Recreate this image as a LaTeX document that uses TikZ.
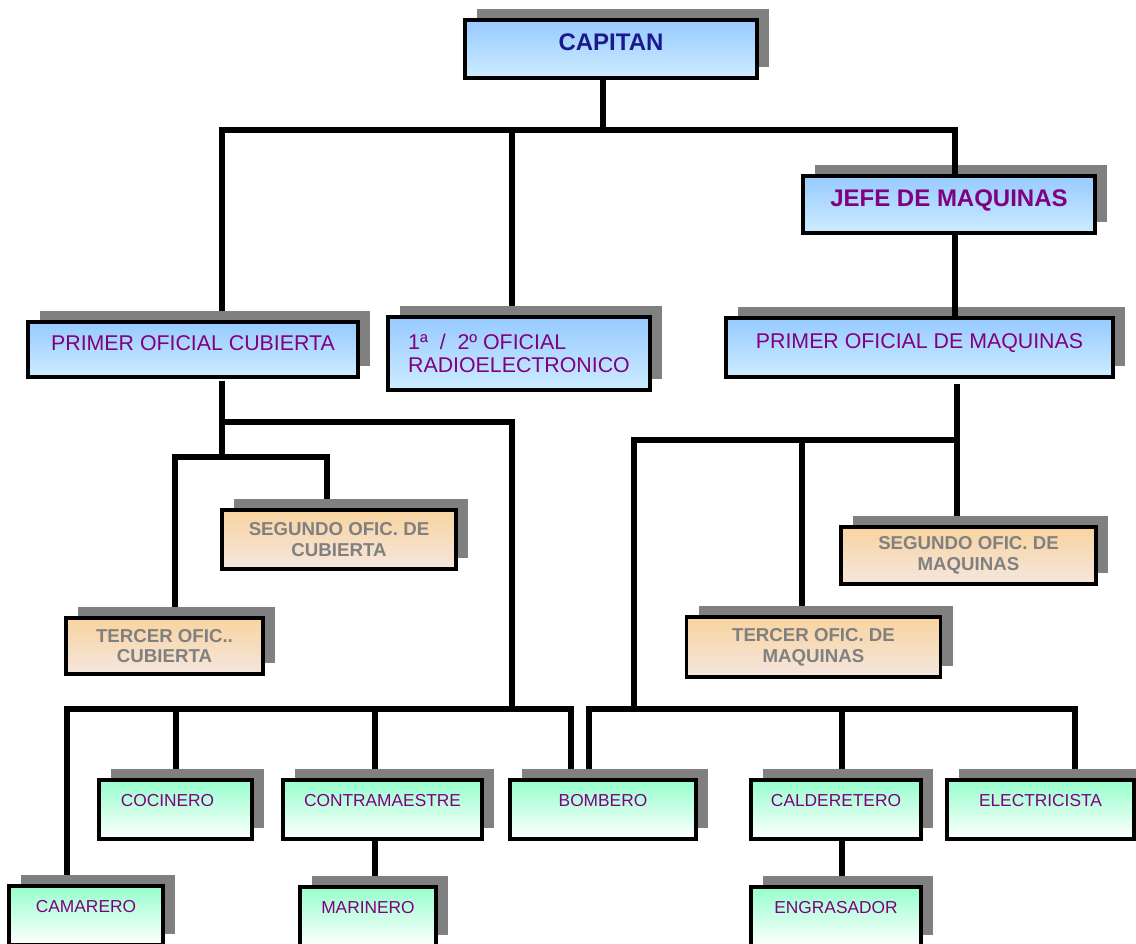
\documentclass[tikz,border=0pt]{standalone}
\usepackage{fontspec}
\setmainfont{Liberation Sans}
\usetikzlibrary{calc,positioning,shadows}
\pgfdeclarelayer{back}
\pgfsetlayers{back,main}
\definecolor{bluetop}{RGB}{150,202,255}
\definecolor{bluebot}{RGB}{206,236,255}
\definecolor{orangetop}{RGB}{248,212,158}
\definecolor{orangebot}{RGB}{245,230,224}
\definecolor{greentop}{RGB}{150,255,204}
\definecolor{txtpurple}{RGB}{128,0,128}
\definecolor{txtnavy}{RGB}{26,26,140}
\definecolor{txtgray}{RGB}{128,128,128}
\definecolor{shadowgray}{RGB}{128,128,128}
\tikzstyle{box} = [draw, rectangle, line width=2.4pt, inner sep=0pt,
    drop shadow={shadow xshift=9pt, shadow yshift=8.25pt, opacity=1, fill=shadowgray}]
\tikzstyle{bblock} = [box, top color=bluetop, bottom color=bluebot, text=txtpurple,
    font=\fontsize{16}{17}\selectfont]
\tikzstyle{oblock} = [box, top color=orangetop, bottom color=orangebot, text=txtgray,
    align=center, font=\bfseries\fontsize{14}{15.5}\selectfont]
\tikzstyle{gblock} = [box, top color=greentop, bottom color=white, text=txtpurple,
    text depth=13.5pt, minimum height=44.25pt, font=\fontsize{13}{15}\selectfont]
\tikzstyle{conn} = [line width=4.3pt, line cap=rect]

\begin{document}
\begin{tikzpicture}[x=0.75pt,y=-0.75pt]
\useasboundingbox (0,0) rectangle (1136,944);

\node (capitan) [bblock,text=txtnavy,font=\bfseries\fontsize{18}{20}\selectfont,text depth=10pt,
    minimum width=219pt,minimum height=43.5pt] at (611,49) {CAPITAN};
\node (jefe) [bblock,font=\bfseries\fontsize{18}{20}\selectfont,text depth=10pt,
    minimum width=219pt,minimum height=42.75pt] at (949,204.5) {JEFE DE MAQUINAS};
\node (pocub) [bblock,text depth=10pt,minimum width=247.5pt,minimum height=41.25pt]
    at (193,349.5) {PRIMER OFICIAL CUBIERTA};
\node (radio) [bblock,align=left,minimum width=196.5pt,minimum height=54.75pt]
    at (519,353.5) {1ª \ / \ 2º OFICIAL\\RADIOELECTRONICO};
\node (pomaq) [bblock,text depth=10pt,minimum width=290.25pt,minimum height=44.25pt]
    at (919.5,347.5) {PRIMER OFICIAL DE MAQUINAS};

\node (segcub) [oblock,minimum width=175.5pt,minimum height=44.25pt] at (339,539.5) {SEGUNDO OFIC. DE\\CUBIERTA};
\node (tercub) [oblock,minimum width=147.75pt,minimum height=42pt] at (164.5,646) {TERCER OFIC..\\CUBIERTA};
\node (segmaq) [oblock,minimum width=191.25pt,minimum height=42.75pt] at (968.5,555.5) {SEGUNDO OFIC. DE\\MAQUINAS};
\node (termaq) [oblock,minimum width=190.5pt,minimum height=45pt] at (813.5,647) {TERCER OFIC. DE\\MAQUINAS};

\node (cocinero) [gblock,minimum width=114.75pt] at (175.5,809.5) {\hspace*{-12pt}COCINERO};
\node (contra) [gblock,minimum width=149.25pt] at (382.5,809.5) {CONTRAMAESTRE};
\node (bombero) [gblock,minimum width=139.5pt] at (603,809.5) {BOMBERO};
\node (calder) [gblock,minimum width=127.5pt] at (836,809.5) {CALDERETERO};
\node (elec) [gblock,minimum width=140.25pt] at (1040.5,809.5) {ELECTRICISTA};
\node (camarero) [gblock,minimum width=115.5pt] at (86,915.5) {CAMARERO};
\node (marinero) [gblock,minimum width=102pt] at (368,916.5) {MARINERO};
\node (engras) [gblock,minimum width=127.5pt] at (836,916.5) {ENGRASADOR};

% bus points
\coordinate (tl) at (222,130);
\coordinate (tm) at (512,130);
\coordinate (tr) at (955,130);
\coordinate (ca) at (222,422);
\coordinate (cb) at (512,422);
\coordinate (cl) at (175,457);
\coordinate (cr) at (327,457);
\coordinate (ma) at (957,440);
\coordinate (mb) at (802,440);
\coordinate (mc) at (634,440);
\coordinate (ll) at (67,709);
\coordinate (lc) at (176,709);
\coordinate (lm) at (375,709);
\coordinate (lr) at (571,709);
\coordinate (rl) at (589,709);
\coordinate (rc) at (842,709);
\coordinate (rr) at (1075,709);

\begin{pgfonlayer}{back}
\draw[conn] ([xshift=-6pt]capitan.south) -- ([xshift=-6pt]capitan.south |- tl);
\draw[conn] (tl |- pocub.north) -- (tl) -- (tr);
\draw[conn] (tm) -- (tm |- radio.north);

\draw[conn,shorten <=4pt] (ca |- pocub.south) -- (cl -| ca);
\draw[conn] (ca) -- (cb) -- (cb |- ll);
\draw[conn] (cl |- tercub.north) -- (cl) -- (cr) -- (cr |- segcub.north);

\draw[conn,shorten <=6pt] (ma |- pomaq.south) -- (ma |- segmaq.north);
\draw[conn] (ma) -- (mc) -- (mc |- rl);
\draw[conn] (mb) -- (mb |- termaq.north);

\draw[conn] (ll |- camarero.north) -- (ll) -- (lr) -- (lr |- bombero.north);
\draw[conn] (lc) -- (lc |- cocinero.north);
\draw[conn] (lm) -- (lm |- contra.north);
\draw[conn] (lm |- contra.south) -- (lm |- marinero.north);

\draw[conn] (rl |- bombero.north) -- (rl) -- (rr) -- (rr |- elec.north);
\draw[conn] (rc) -- (rc |- calder.north);
\draw[conn] (rc |- calder.south) -- (rc |- engras.north);
\end{pgfonlayer}

\draw[conn] (tr) -- (tr |- jefe.north);
\draw[conn] (tr |- jefe.south) -- (tr |- pomaq.north);

\end{tikzpicture}
\end{document}
